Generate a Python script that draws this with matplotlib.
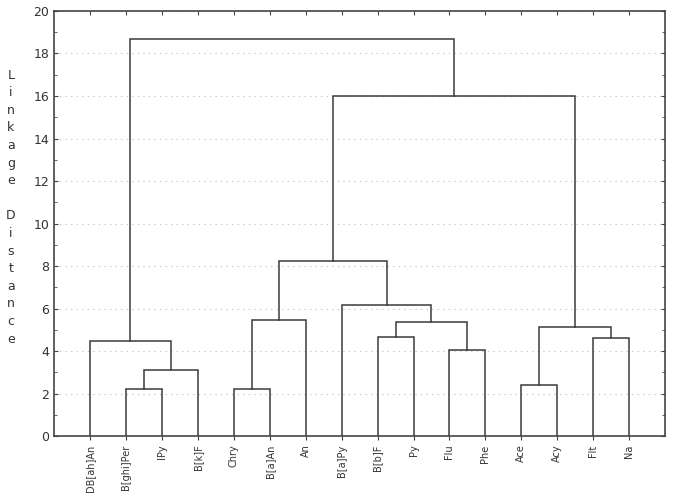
import matplotlib
matplotlib.use("Agg")
import matplotlib.pyplot as plt

# Leaves in dendrogram order
leaves = ["DB[ah]An", "B[ghi]Per", "IPy", "B[k]F", "Chry", "B[a]An", "An",
          "B[a]Py", "B[b]F", "Py", "Flu", "Phe", "Ace", "Acy", "Flt", "Na"]

# Tree merges (left, right, linkage distance); new nodes numbered 16, 17, ...
merges = [
    ("B[ghi]Per", "IPy", 2.2),      # 16
    ("Chry", "B[a]An", 2.2),        # 17
    ("Ace", "Acy", 2.4),            # 18
    (16, "B[k]F", 3.1),             # 19
    ("Flu", "Phe", 4.05),           # 20
    ("B[b]F", "Py", 4.65),          # 21
    ("Flt", "Na", 4.6),             # 22
    ("DB[ah]An", 19, 4.5),          # 23
    (18, 22, 5.15),                 # 24
    (21, 20, 5.35),                 # 25
    (17, "An", 5.45),               # 26
    ("B[a]Py", 25, 6.15),           # 27
    (26, 27, 8.25),                 # 28
    (28, 24, 16.0),                 # 29
    (23, 29, 18.7),                 # 30
]

fig = plt.figure(figsize=(6.74, 4.98), dpi=100)
ax = fig.add_axes([0.080, 0.124, 0.907, 0.854])

col = "#3a3a3a"
pos = {}
hgt = {}
for i, name in enumerate(leaves):
    pos[name] = i + 1
    hgt[name] = 0.0

nid = len(leaves)
for a, b, h in merges:
    xa, xb = pos[a], pos[b]
    ya, yb = hgt[a], hgt[b]
    ax.plot([xa, xa, xb, xb], [ya, h, h, yb], color=col, lw=1.1,
            solid_joinstyle="miter", zorder=3)
    pos[nid] = (xa + xb) / 2
    hgt[nid] = h
    nid += 1

ax.set_xlim(0, len(leaves) + 1)
ax.set_ylim(0, 20)
ax.set_yticks(range(0, 21, 2))
ax.set_yticks(range(0, 21, 1), minor=True)
ax.set_xticks(range(1, len(leaves) + 1))
ax.set_xticklabels(leaves, rotation=90, fontsize=7, color="#333333")
ax.tick_params(axis="y", which="both", direction="in", left=True, right=True,
               labelsize=9, labelcolor="#333333", color="#444444")
ax.tick_params(axis="y", which="major", length=3)
ax.tick_params(axis="y", which="minor", length=2)
ax.tick_params(axis="x", which="both", direction="out", length=3,
               color="#444444", pad=3)

top = ax.secondary_xaxis("top")
top.set_xticks(range(1, len(leaves) + 1))
top.tick_params(direction="in", length=3, color="#444444", labeltop=False)
top.spines["top"].set_visible(False)

for sp in ax.spines.values():
    sp.set_color("#444444")
    sp.set_linewidth(1.2)

ax.yaxis.grid(True, which="major", linestyle=(0, (1, 4)), color="#bbbbbb", lw=0.8)
ax.set_axisbelow(True)

label = "Linkage Distance"
fig.text(0.016, 0.584, "\n".join(label), ha="center", va="center",
         fontsize=9, color="#333333", linespacing=1.46)

fig.savefig("out.png", dpi=100)
